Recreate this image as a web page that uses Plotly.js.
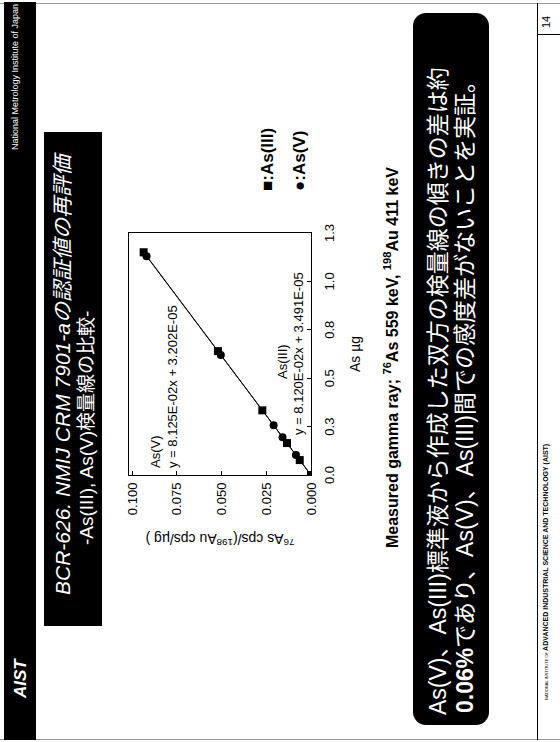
<!DOCTYPE html>
<html><head><meta charset="utf-8">
<script src="https://cdn.plot.ly/plotly-3.0.1.min.js"></script>
<style>
html,body{margin:0;padding:0;background:#fff;width:560px;height:742px;overflow:hidden;}
#slide{position:absolute;left:0;top:0;width:742px;height:560px;transform-origin:0 0;transform:translateY(742px) rotate(-90deg);background:#fff;font-family:"Liberation Sans",Arial,sans-serif;}
.abs{position:absolute;white-space:nowrap;}
.jp{font-family:"Liberation Sans","Noto Sans CJK JP",sans-serif;}
</style></head><body>
<div id="slide">
  <div class="abs" style="left:2px;top:0;width:737px;height:560px;border-left:1px solid #999;border-right:1px solid #999;box-sizing:border-box"></div>
  <div class="abs" style="left:2px;top:4px;width:738px;height:32px;background:#000"></div>
  <div class="abs" style="left:44px;top:10px;height:22px;line-height:22px;color:#fff;font-weight:bold;font-style:italic;font-size:17px">AIST</div>
  <div class="abs" style="right:4px;top:9px;height:12px;line-height:12px;color:#fff;font-size:9px">National Metrology Institute of Japan</div>

  <div class="abs" style="left:116px;top:44px;width:494px;height:58px;background:#000"></div>
  <div class="abs jp" style="left:147px;top:50px;height:26px;line-height:26px;color:#fff;font-style:italic;font-size:21px">BCR-626. NMIJ CRM 7901-aの認証値の再評価</div>
  <div class="abs jp" style="left:197px;top:75px;height:24px;line-height:24px;color:#fff;font-size:19px">-As(III), As(V)検量線の比較-</div>

  <div class="abs" style="left:17px;top:413px;width:712px;height:76px;background:#000;border-radius:13px"></div>
  <div class="abs jp" style="left:27px;top:424px;height:28px;line-height:28px;color:#fff;font-size:23px">As(V)、As(III)標準液から作成した双方の検量線の傾きの差は約</div>
  <div class="abs jp" style="left:29px;top:451px;height:28px;line-height:28px;color:#fff;font-size:23px"><b>0.06%</b>であり、As(V)、As(III)間での感度差がないことを実証。</div>

  <div class="abs" style="left:2px;top:537px;width:737px;height:0;border-top:1px solid #000"></div>
  <div class="abs" style="left:707px;top:537px;width:0;height:23px;border-left:1px solid #000"></div>
  <div class="abs" style="left:714px;top:539px;height:14px;line-height:14px;font-size:11px">14</div>
  <div class="abs" style="left:42px;top:541px;height:10px;line-height:10px;font-size:7px;font-weight:bold"><span style="font-size:4px;font-weight:normal">NATIONAL INSTITUTE OF </span>ADVANCED INDUSTRIAL SCIENCE AND TECHNOLOGY (AIST)</div>

  <div id="plot" class="abs" style="left:0;top:0;width:742px;height:560px"></div>
</div>
<script>
// Data (As amount in µg vs 76As/198Au count ratio per µg)
const asIII_x = [0, 0.077, 0.165, 0.334, 0.640, 1.150];
const asIII_y = [0, 0.0063, 0.0134, 0.0272, 0.0520, 0.0935];
const asV_x = [0, 0.103, 0.195, 0.257, 0.620, 1.130];
const asV_y = [0, 0.0084, 0.0159, 0.0209, 0.0504, 0.0919];
const fitSlope = {asIII: 8.120e-2, asV: 8.125e-2};
const fitIntercept = {asIII: 3.491e-5, asV: 3.202e-5};
const fitRangeX = [0, 1.15];
const xTickVals = [0, 0.25, 0.5, 0.75, 1.0, 1.25];
const xTickText = ["0.0", "0.3", "0.5", "0.8", "1.0", "1.3"];
const yTickVals = [0, 0.025, 0.05, 0.075, 0.1];
const yTickText = ["0.000", "0.025", "0.050", "0.075", "0.100"];

// plot area in slide pixels
const PL = 267, PR = 509, PT = 129, PB = 311;
const W = 742, H = 560;
const px = x => (x - PL) / (PR - PL);
const py = y => (PB - y) / (PB - PT);

const F = "Liberation Sans, Arial, sans-serif";
const fitLine = (k) => ({
  x: fitRangeX,
  y: fitRangeX.map(v => fitSlope[k] * v + fitIntercept[k]),
  mode: 'lines', line: {color: '#000', width: 1}, showlegend: false, hoverinfo: 'skip'
});

const traces = [
  fitLine('asIII'), fitLine('asV'),
  {x: asIII_x, y: asIII_y, mode: 'markers', name: 'As(III)',
   marker: {symbol: 'square', size: 8, color: '#000'}, showlegend: false},
  {x: asV_x, y: asV_y, mode: 'markers', name: 'As(V)',
   marker: {symbol: 'circle', size: 8, color: '#000'}, showlegend: false}
];

const ann = (x, y, text, size, opts) => Object.assign({
  xref: 'paper', yref: 'paper', x: px(x), y: py(y), text: text, showarrow: false,
  xanchor: 'left', yanchor: 'middle', font: {family: F, size: size, color: '#000'}
}, opts || {});

const layout = {
  width: W, height: H,
  margin: {l: PL, r: W - PR, t: PT, b: H - PB, pad: 0},
  paper_bgcolor: 'rgba(0,0,0,0)', plot_bgcolor: 'rgba(0,0,0,0)',
  showlegend: false,
  font: {family: F, color: '#000'},
  xaxis: {
    range: [0, 1.25], tickvals: xTickVals, ticktext: xTickText,
    ticks: 'inside', ticklen: 4, tickcolor: '#000', showgrid: false, zeroline: false,
    showline: true, mirror: true, linecolor: '#000', linewidth: 1,
    tickfont: {family: F, size: 13}, ticklabelstandoff: 6,
    title: {text: 'As µg', font: {family: F, size: 14}, standoff: 14}
  },
  yaxis: {
    range: [0, 0.1017], tickvals: yTickVals, ticktext: yTickText,
    ticks: 'inside', ticklen: 4, tickcolor: '#000', showgrid: false, zeroline: false,
    showline: true, mirror: true, linecolor: '#000', linewidth: 1,
    tickfont: {family: F, size: 13}, ticklabelstandoff: 4,
    title: {text: '<sup>76</sup>As cps/(<sup>198</sup>Au cps/µg )', font: {family: F, size: 14}, standoff: 14}
  },
  annotations: [
    ann(272, 155, 'As(V)', 13),
    ann(272, 172, 'y = 8.125E-02x + 3.202E-05', 13),
    ann(380, 282, 'As(III)', 13, {xanchor: 'center'}),
    ann(388, 298, 'y = 8.120E-02x + 3.491E-05', 13, {xanchor: 'center'}),
    ann(549, 267, '<b>■:As(III)</b>', 17),
    ann(549, 299, '<b>●:As(V)</b>', 17),
    ann(192, 391, '<b>Measured gamma ray; <sup>76</sup>As 559 keV, <sup>198</sup>Au 411 keV</b>', 16)
  ]
};

Plotly.newPlot('plot', traces, layout, {staticPlot: true, displayModeBar: false});
</script>
</body></html>
